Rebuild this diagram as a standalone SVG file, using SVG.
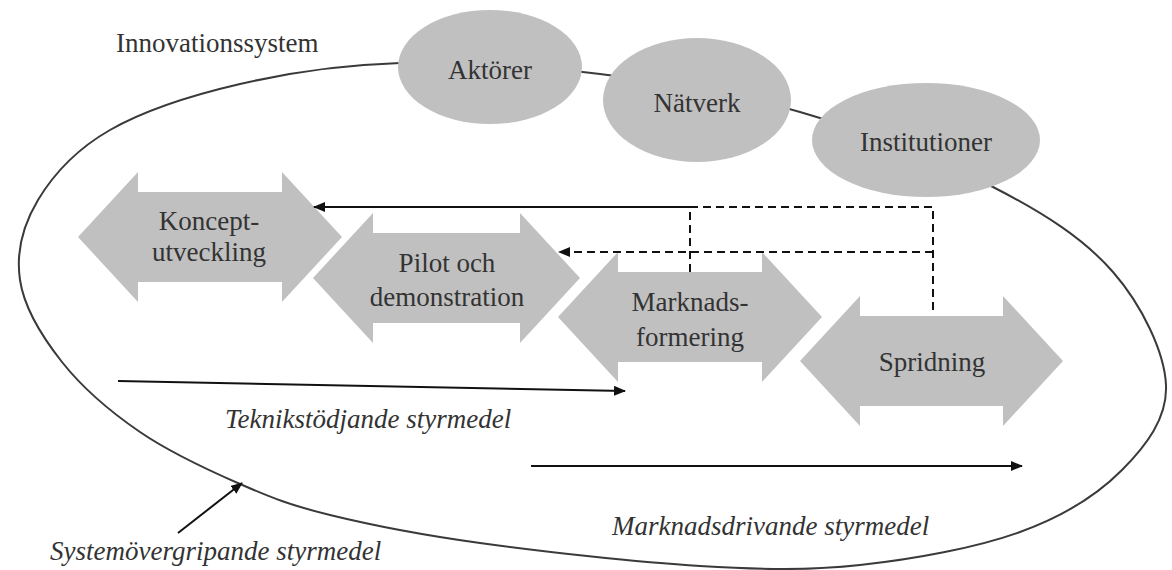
<svg xmlns="http://www.w3.org/2000/svg" width="1172" height="570" viewBox="0 0 1172 570">
<style>
.bg{fill:#ffffff}
.sys{fill:none;stroke:#3a3a3a;stroke-width:2}
.node{fill:#c0c0c0;stroke:none}
.lbl{font-family:"Liberation Serif","Times New Roman",serif;font-size:27px;fill:#333333;text-anchor:middle}
.ital{font-family:"Liberation Serif","Times New Roman",serif;font-size:27px;font-style:italic;fill:#333333}
.plain{font-family:"Liberation Serif","Times New Roman",serif;font-size:27px;fill:#333333}
.con{fill:none;stroke:#111111;stroke-width:2}
.dash{stroke-dasharray:8,5}
</style>
<defs>
<marker id="ah" markerUnits="userSpaceOnUse" markerWidth="12" markerHeight="10" refX="11" refY="5" orient="auto">
<path d="M0,0 L12,5 L0,10 Z" fill="#111111"/>
</marker>
</defs>
<rect class="bg" x="0" y="0" width="1172" height="570"/>
<g id="system">
<path class="sys" d="M400,63 C460,61.3 533.3,65.8 600,74 C666.7,82.2 734.5,93.2 800,112 C865.5,130.8 940.8,160.3 993,187 C1045.2,213.7 1084.2,239 1113,272 C1141.8,305 1164.5,352 1166,385 C1167.5,418 1146.3,445.5 1122,470 C1097.7,494.5 1063.7,516.2 1020,532 C976.3,547.8 913.3,559.3 860,565 C806.7,570.7 763.3,569.7 700,566 C636.7,562.3 541.7,551.5 480,543 C418.3,534.5 370,524.8 330,515 C290,505.2 271.7,497.8 240,484 C208.3,470.2 169.7,452.3 140,432 C110.3,411.7 82,387.3 62,362 C42,336.7 24,307 20,280 C16,253 23,225 38,200 C53,175 76.3,149.3 110,130 C143.7,110.7 191.7,95.2 240,84 C288.3,72.8 340,64.7 400,63 Z"/>
<text class="plain" x="116" y="52">Innovationssystem</text>
</g>
<g id="aktorer">
<ellipse class="node" cx="490" cy="67" rx="92" ry="57"/>
<text class="lbl" x="490" y="79">Aktörer</text>
</g>
<g id="natverk">
<ellipse class="node" cx="697" cy="100" rx="94" ry="62"/>
<text class="lbl" x="697" y="112">Nätverk</text>
</g>
<g id="institutioner">
<ellipse class="node" cx="926" cy="140" rx="114" ry="57"/>
<text class="lbl" x="926" y="151">Institutioner</text>
</g>
<g id="koncept">
<path class="node" d="M78,237 L138,172 L138,192 L282,192 L282,172 L342,237 L282,302 L282,282 L138,282 L138,302 Z"/>
<text class="lbl" x="209" y="230">Koncept-</text>
<text class="lbl" x="209" y="261">utveckling</text>
</g>
<g id="pilot">
<path class="node" d="M313,278 L373,213 L373,233 L520,233 L520,213 L580,278 L520,343 L520,323 L373,323 L373,343 Z"/>
<text class="lbl" x="447" y="272">Pilot och</text>
<text class="lbl" x="447" y="306">demonstration</text>
</g>
<g id="marknadsformering">
<path class="node" d="M558,317 L618,252 L618,272 L762,272 L762,252 L822,317 L762,382 L762,362 L618,362 L618,382 Z"/>
<text class="lbl" x="690" y="311">Marknads-</text>
<text class="lbl" x="690" y="346">formering</text>
</g>
<g id="spridning">
<path class="node" d="M800,361 L860,296 L860,316 L1003,316 L1003,296 L1063,361 L1003,426 L1003,406 L860,406 L860,426 Z"/>
<text class="lbl" x="932" y="371">Spridning</text>
</g>
<g id="connectors">
<path class="con" d="M690,207 H314" marker-end="url(#ah)"/>
<path class="con dash" d="M690,272 V207"/>
<path class="con dash" d="M690,207 H933 V315"/>
<path class="con dash" d="M933,252 H559" marker-end="url(#ah)"/>
<path class="con" d="M118,381 L625,391" marker-end="url(#ah)"/>
<path class="con" d="M531,466 H1022" marker-end="url(#ah)"/>
<path class="con" d="M178,533 L242,483" marker-end="url(#ah)"/>
</g>
<g id="labels">
<text class="ital" x="225" y="428">Teknikstödjande styrmedel</text>
<text class="ital" x="612" y="535">Marknadsdrivande styrmedel</text>
<text class="ital" x="50" y="560">Systemövergripande styrmedel</text>
</g>
</svg>
